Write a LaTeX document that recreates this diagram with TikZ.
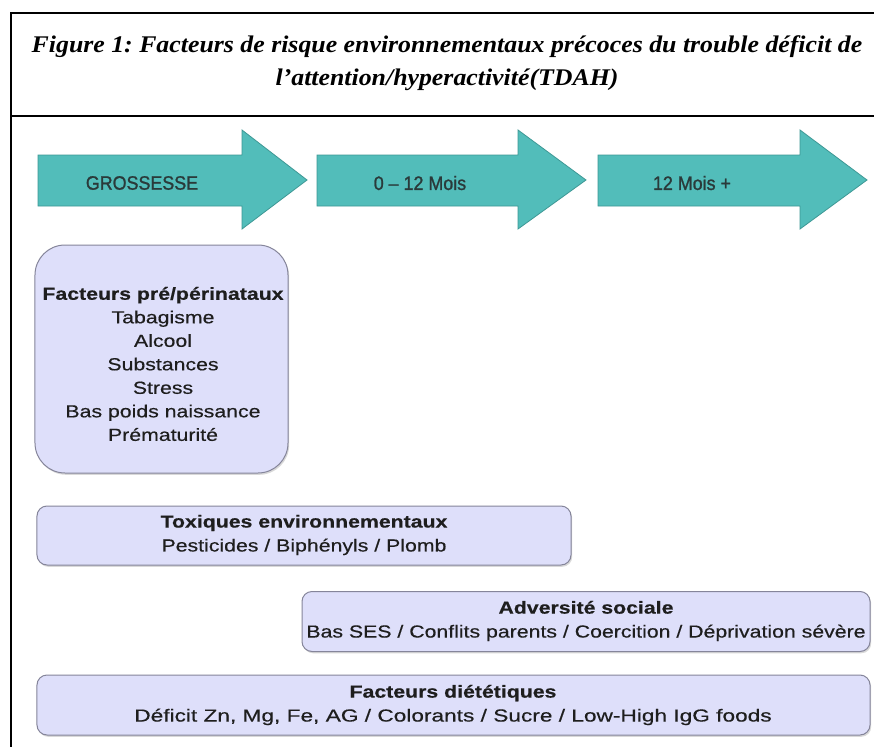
\documentclass[tikz,border=0pt]{standalone}
\usepackage{fontspec}
\setmainfont{Liberation Sans}
\newfontfamily\titlefont[FakeStretch=1.08]{Liberation Serif}
\newfontfamily\boxfont[FakeStretch=1.22,FakeBold=0.4]{Liberation Sans}
\newfontfamily\wideboxfont[FakeStretch=1.3,FakeBold=0.4]{Liberation Sans}
\newfontfamily\arrowfont[FakeStretch=0.92,FakeBold=1.2]{Liberation Sans}
\usetikzlibrary{shadows}
\definecolor{tealf}{HTML}{52BDBA}
\definecolor{tealb}{HTML}{3E9895}
\definecolor{lavf}{HTML}{DEDFFA}
\definecolor{lavb}{HTML}{85859A}
\definecolor{txt}{HTML}{1E1E1E}
\definecolor{arrtxt}{HTML}{2A3A3A}
\begin{document}
\frenchspacing
\begin{tikzpicture}[x=1bp,y=-1bp,
  frameline/.style={line width=2bp,black},
  sepline/.style={line width=2.8bp,black},
  chevron/.style={fill=tealf,draw=tealb,line width=0.8bp,line join=miter},
  arrowlabel/.style={font=\arrowfont\fontsize{19.5}{22}\selectfont,text=arrtxt,inner sep=0pt},
  lbox/.style={draw=lavb,fill=lavf,line width=1bp,rounded corners=10bp,inner sep=0pt,
    drop shadow={shadow xshift=1.2bp,shadow yshift=-1.8bp,opacity=0.25,fill=black!60}},
  boxtext/.style={font=\boxfont\fontsize{17.5}{24}\selectfont,text=txt,align=center,inner sep=0pt},
  titletext/.style={font=\titlefont\bfseries\itshape\fontsize{24}{33}\selectfont,text=black,align=center,inner sep=0pt}
]
\useasboundingbox (0,0) rectangle (874,747);
\fill[white] (0,0) rectangle (874,747);
% frame
\draw[frameline] (11,747) -- (11,13) -- (874,13);
\draw[sepline] (11,116) -- (874,116);
\node[titletext] (title) at (447,63) {Figure 1: Facteurs de risque environnementaux précoces du trouble déficit de\\l’attention/hyperactivité(TDAH)};
% arrows
\filldraw[chevron] (38,155) -- (242,155) -- (242,130) -- (307,180) -- (242,229) -- (242,206) -- (38,206) -- cycle;
\filldraw[chevron] (317,155) -- (518,155) -- (518,130) -- (586,180) -- (518,229) -- (518,206) -- (317,206) -- cycle;
\filldraw[chevron] (598,155) -- (800,155) -- (800,130) -- (867,180) -- (800,229) -- (800,206) -- (598,206) -- cycle;
\node[arrowlabel] (a1) at (142,183) {GROSSESSE};
\node[arrowlabel] (a2) at (420,183) {0 – 12 Mois};
\node[arrowlabel] (a3) at (692,183) {12 Mois +};
% boxes
\node[lbox,rounded corners=30bp,minimum width=253bp,minimum height=228bp] (b1) at (161.5,359) {};
\node[boxtext,font=\boxfont\fontsize{17.5}{23.6}\selectfont] (t1) at (163,364) {\textbf{Facteurs pré/périnataux}\\Tabagisme\\Alcool\\Substances\\Stress\\Bas poids naissance\\Prématurité};
\node[lbox,minimum width=534bp,minimum height=59bp] (b2) at (304,535.5) {};
\node[boxtext] (t2) at (304,535) {\textbf{Toxiques environnementaux}\\Pesticides / Biphényls / Plomb};
\node[lbox,minimum width=568bp,minimum height=60bp] (b3) at (586,621.5) {};
\node[boxtext] (t3) at (586,621) {\textbf{Adversité sociale}\\Bas SES / Conflits parents / Coercition / Déprivation sévère};
\node[lbox,minimum width=833bp,minimum height=60bp] (b4) at (453.5,705) {};
\node[boxtext] (t4) at (453,705) {\textbf{Facteurs diététiques}\\{\wideboxfont Déficit Zn, Mg, Fe, AG / Colorants / Sucre / Low-High IgG foods}};
\end{tikzpicture}
\end{document}
